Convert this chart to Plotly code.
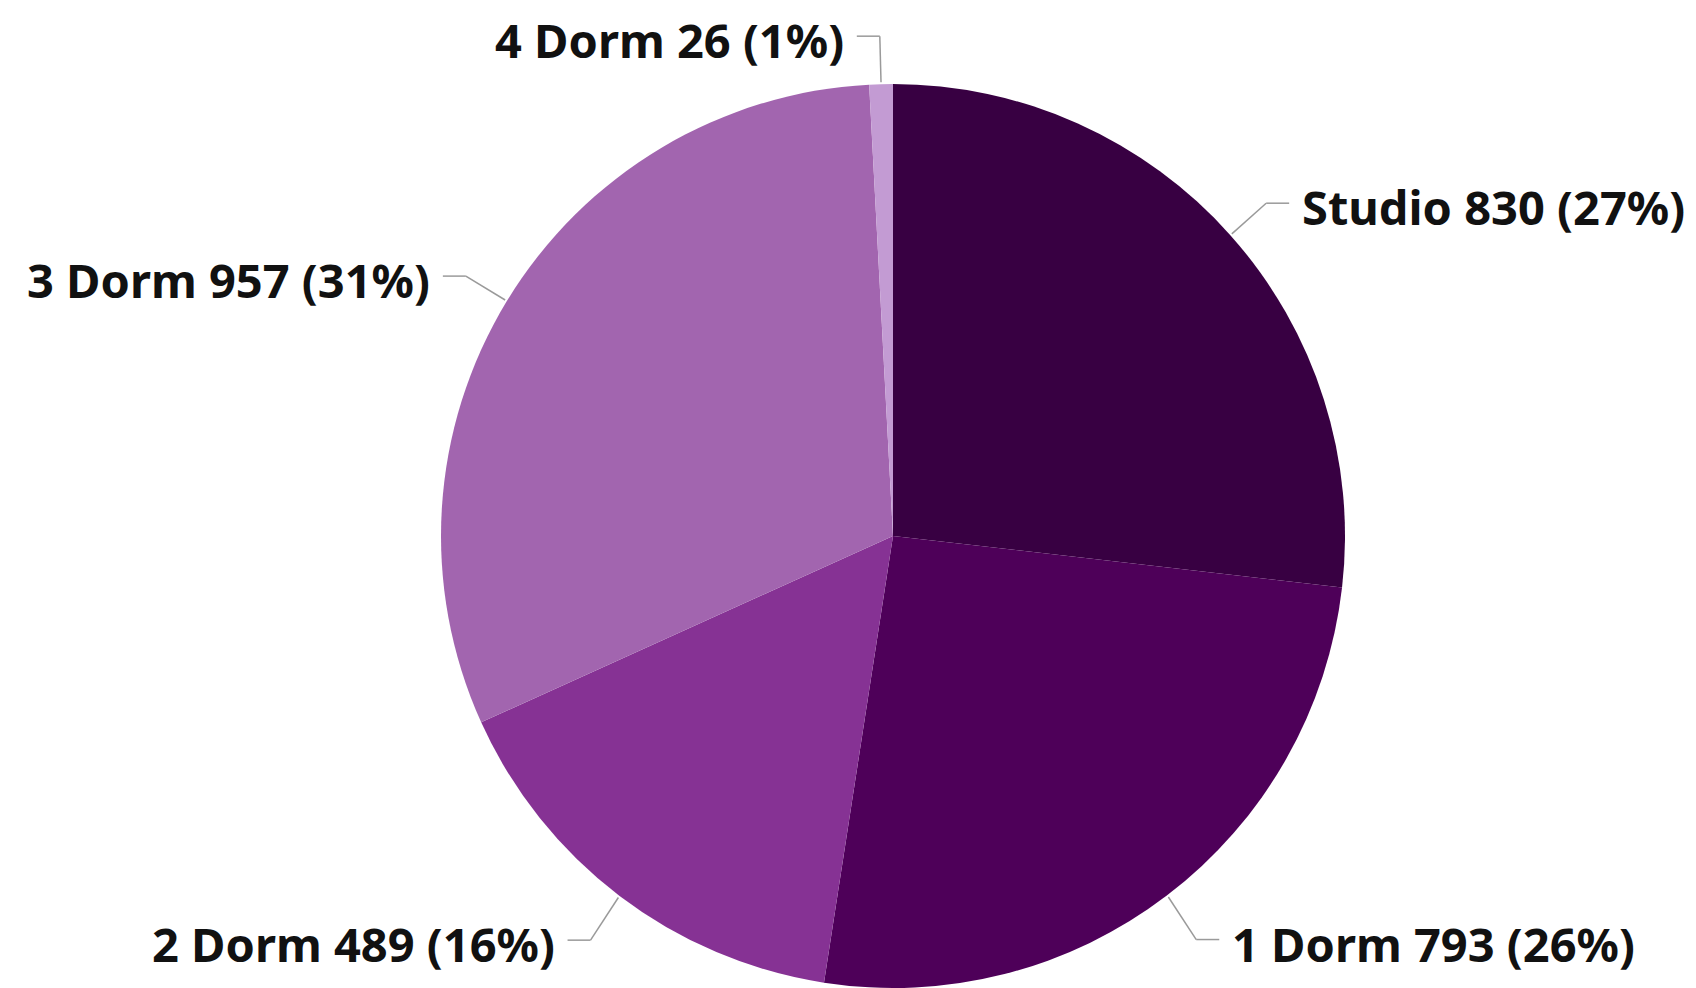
import math
import plotly.graph_objects as go

# ---- data ----
labels = ["Studio", "1 Dorm", "2 Dorm", "3 Dorm", "4 Dorm"]
values = [830, 793, 489, 957, 26]
colors = ["#380042", "#4E0059", "#863294", "#A265AF", "#C39BD3"]

# ---- layout geometry (pixels) ----
W, H = 1696, 988
CX, CY, R = 885, 528, 452
LEAD = 48        # radial leader length
LOWER_DROP = 6   # extra drop for labels in the lower half
HSEG = 23        # horizontal leader segment
GAP = 12         # gap between line and text
TEXT_DY = 4      # text sits slightly below the leader line

dom_x = [(CX - R) / W, (CX + R) / W]
dom_y = [(H - CY - R) / H, (H - CY + R) / H]

fig = go.Figure(go.Pie(
    labels=labels, values=values, sort=False, direction="clockwise", rotation=0,
    marker=dict(colors=colors, line=dict(width=0)),
    textinfo="none", hoverinfo="label+value+percent", showlegend=False,
    domain=dict(x=dom_x, y=dom_y),
))

def px2paper(x, y):
    return x / W, 1 - y / H

total = sum(values)
cum = 0
shapes = []
annotations = []
for lab, v in zip(labels, values):
    mid = (cum + v / 2) / total
    cum += v
    ang = math.radians(90 - mid * 360)
    dx, dy = math.cos(ang), -math.sin(ang)
    p0 = (CX + dx * (R + 2), CY + dy * (R + 2))
    p1 = (CX + dx * (R + LEAD),
          CY + dy * (R + LEAD) + (LOWER_DROP if dy > 0 else 0))
    side = 1 if dx >= 0 else -1
    p2 = (p1[0] + side * HSEG, p1[1])
    for a, b in ((p0, p1), (p1, p2)):
        x0, y0 = px2paper(*a)
        x1, y1 = px2paper(*b)
        shapes.append(dict(type="line", xref="paper", yref="paper",
                           x0=x0, y0=y0, x1=x1, y1=y1,
                           line=dict(color="#9a9a9a", width=1.5)))
    pct = round(v / total * 100)
    tx, ty = px2paper(p2[0] + side * GAP, p2[1] + TEXT_DY)
    annotations.append(dict(
        x=tx, y=ty, xref="paper", yref="paper", showarrow=False,
        text=f"<b>{lab} {v} ({pct}%)</b>", borderpad=0,
        xanchor="left" if side > 0 else "right", yanchor="middle",
        font=dict(family="Noto Sans", size=47, color="#111111"),
    ))

fig.update_layout(
    width=W, height=H, margin=dict(l=0, r=0, t=0, b=0),
    paper_bgcolor="white", plot_bgcolor="white",
    shapes=shapes, annotations=annotations,
)
fig.write_html("out.html")
